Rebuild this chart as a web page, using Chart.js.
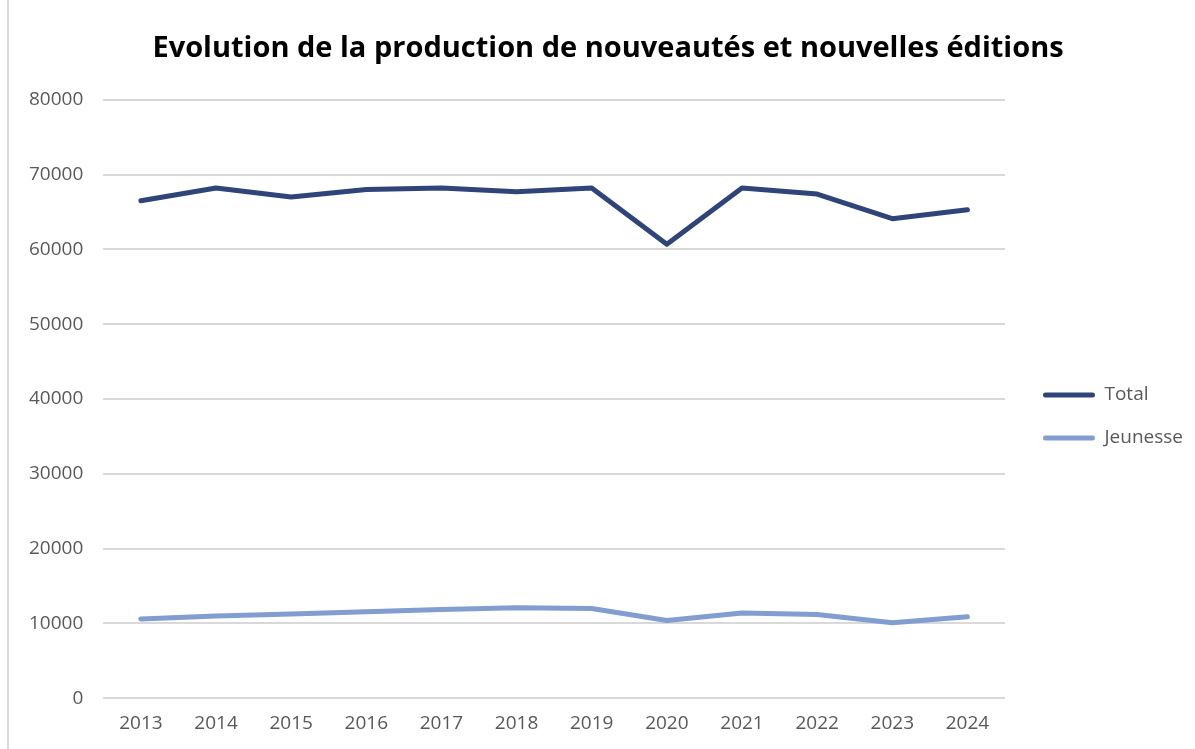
<!DOCTYPE html>
<html>
<head>
<meta charset="utf-8">
<script src="https://cdn.jsdelivr.net/npm/chart.js@4/dist/chart.umd.min.js"></script>
<style>
  html, body { margin: 0; padding: 0; background: #fff; }
  #wrap { position: relative; width: 1195px; height: 749px; }
  #frame { position: absolute; left: 7px; top: 0; width: 2px; height: 749px; background: #d9d9d9; }
  canvas { position: absolute; left: 0; top: 0; }
</style>
</head>
<body>
<div id="wrap">
  <canvas id="chart" width="1195" height="749"></canvas>
  <div id="frame"></div>
</div>
<script>
"use strict";

// data
const years = ["2013", "2014", "2015", "2016", "2017", "2018", "2019", "2020", "2021", "2022", "2023", "2024"];
const total = [66500, 68200, 67000, 68000, 68200, 67700, 68200, 60700, 68200, 67400, 64100, 65300];
const jeunesse = [10600, 11000, 11250, 11550, 11850, 12100, 12000, 10400, 11400, 11200, 10100, 10900];

const yTicks = [0, 10000, 20000, 30000, 40000, 50000, 60000, 70000, 80000];

const colTotal = "#2f4479";
const colJeunesse = "#829dd0";
const fontFamily = "'Open Sans', 'Noto Sans', sans-serif";

// nudge legend and title to where they sit in the original
const boxShift = {
  id: "boxShift",
  afterLayout(chart) {
    const lg = chart.legend;
    if (lg) {
      lg.left += 14; lg.right += 14;
      lg.top += 36; lg.bottom += 36;
    }
    const tt = chart.titleBlock;
    if (tt) {
      tt.left += 14; tt.right += 14;
    }
  },
};

const ctx = document.getElementById("chart").getContext("2d");
new Chart(ctx, {
  type: "line",
  data: {
    labels: years,
    datasets: [
      { label: "Total", data: total, borderColor: colTotal, backgroundColor: colTotal },
      { label: "Jeunesse", data: jeunesse, borderColor: colJeunesse, backgroundColor: colJeunesse },
    ],
  },
  plugins: [boxShift],
  options: {
    responsive: false,
    animation: false,
    layout: { padding: { left: 9, right: 16, top: 20, bottom: 8 } },
    elements: {
      line: { borderWidth: 5, tension: 0, borderCapStyle: "round", borderJoinStyle: "round" },
      point: { radius: 0, hoverRadius: 0 },
    },
    plugins: {
      title: {
        display: true,
        text: "Evolution de la production de nouveautés et nouvelles éditions",
        color: "#000",
        font: { family: fontFamily, size: 29, weight: "bold" },
        padding: { top: 11, bottom: 34 },
      },
      legend: {
        position: "right",
        labels: {
          color: "#595959",
          font: { family: fontFamily, size: 19 },
          boxWidth: 52,
          boxHeight: 5,
          padding: 24,
          generateLabels: (chart) =>
            chart.data.datasets.map((ds, i) => ({
              text: ds.label,
              fillStyle: ds.borderColor,
              strokeStyle: ds.borderColor,
              lineWidth: 0,
              borderRadius: 2.5,
              fontColor: "#595959",
              datasetIndex: i,
            })),
        },
      },
      tooltip: { enabled: false },
    },
    scales: {
      x: {
        offset: true,
        grid: { display: false },
        border: { display: false },
        ticks: { color: "#595959", font: { family: fontFamily, size: 19 }, padding: 6 },
      },
      y: {
        min: 0,
        max: 80000,
        afterBuildTicks: (axis) => { axis.ticks = yTicks.map((v) => ({ value: v })); },
        grid: { color: "#d9d9d9", lineWidth: 2, drawTicks: false },
        border: { display: false },
        ticks: {
          color: "#595959",
          font: { family: fontFamily, size: 19 },
          padding: 20,
          callback: (v) => String(v),
        },
      },
    },
  },
});
</script>
</body>
</html>
